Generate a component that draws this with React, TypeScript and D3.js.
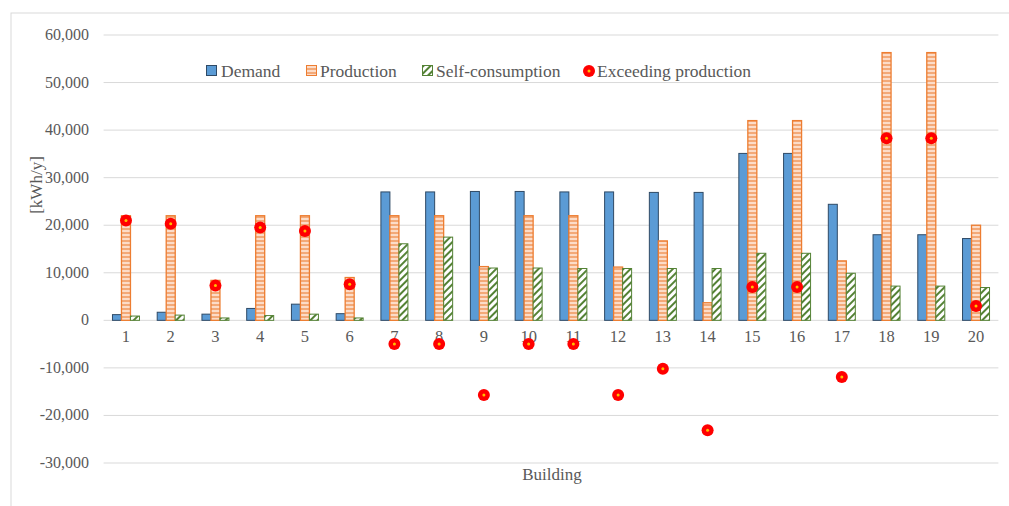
import React from "react";
import * as d3 from "d3";

const buildings = ["1","2","3","4","5","6","7","8","9","10","11","12","13","14","15","16","17","18","19","20"];
const demand = [1200,1700,1300,2500,3400,1400,27000,27000,27100,27100,27000,27000,26900,26900,35100,35100,24400,18000,18000,17200];
const production = [22000,22000,8400,22000,22000,9000,22000,22000,11300,22000,22000,11200,16700,3700,42000,42000,12500,56300,56300,20000];
const selfConsumption = [900,1100,500,1000,1300,500,16100,17500,11000,11000,10900,10900,10900,10900,14100,14100,9900,7200,7200,6900];
const exceeding = [21000,20300,7300,19500,18800,7600,-5000,-5000,-15700,-5000,-5000,-15700,-10200,-23100,7000,7000,-11900,38300,38300,3000];
const yTicks = [-30000,-20000,-10000,0,10000,20000,30000,40000,50000,60000];

const W = 1009, H = 506;
const FONT = "Liberation Serif, DejaVu Serif, serif";
const TXT = "#595959";

export default function App() {
  const x = d3.scaleBand<string>().domain(buildings).range([103.6, 998.4]).paddingInner(0).paddingOuter(0);
  const y = d3.scaleLinear().domain([-30000, 60000]).range([463, 35]);
  const bw = 9;
  const fmt = (v: number) => d3.format(",")(v).replace("\u2212", "-");
  const cx = (b: string) => (x(b) as number) + x.bandwidth() / 2;
  const y0 = y(0);

  const barRect = (b: string, v: number, off: number) => {
    const yy = y(v);
    return { x: cx(b) + off, y: Math.min(yy, y0), w: bw, h: Math.abs(y0 - yy) };
  };

  return (
    <svg width={W} height={H} style={{ position: "absolute", left: 0, top: 0, background: "#fff" }} fontFamily={FONT}>
      <defs>
        <pattern id="prodPat" patternUnits="userSpaceOnUse" width="4" height="4">
          <rect width="4" height="4" fill="#FCDCC8" />
          <rect y="0" width="4" height="2" fill="#F3A978" />
        </pattern>
        <pattern id="selfPat" patternUnits="userSpaceOnUse" width="5" height="5" patternTransform="rotate(45)">
          <rect width="5" height="5" fill="#fff" />
          <rect x="0" y="0" width="2" height="5" fill="#548235" />
        </pattern>
      </defs>
      <rect x={11} y={13} width={1010} height={500} fill="#fff" stroke="#D9D9D9" strokeWidth={1} />
      {yTicks.map((t) => (
        <line key={t} x1={103.6} x2={998.4} y1={y(t)} y2={y(t)} stroke="#D9D9D9" strokeWidth={1} />
      ))}
      {yTicks.map((t) => (
        <text key={"l" + t} x={89} y={y(t) + 5} textAnchor="end" fontSize={16} fill={TXT}>
          {fmt(t)}
        </text>
      ))}
      {buildings.map((b) => (
        <text key={"x" + b} x={cx(b)} y={y0 + 22} textAnchor="middle" fontSize={16.5} fill={TXT}>
          {b}
        </text>
      ))}
      {buildings.map((b, i) => {
        const d = barRect(b, demand[i], -13.5);
        const p = barRect(b, production[i], -4.5);
        const s = barRect(b, selfConsumption[i], 4.5);
        return (
          <g key={"b" + b}>
            <rect x={d.x} y={d.y} width={d.w} height={d.h} fill="#5B9BD5" stroke="#2F4A66" strokeWidth={1} />
            <rect x={p.x} y={p.y} width={p.w} height={p.h} fill="url(#prodPat)" stroke="#ED7D31" strokeWidth={1.3} />
            <rect x={s.x} y={s.y} width={s.w} height={s.h} fill="url(#selfPat)" stroke="#548235" strokeWidth={1} />
          </g>
        );
      })}
      {buildings.map((b, i) => (
        <g key={"e" + b}>
          <circle cx={cx(b)} cy={y(exceeding[i])} r={6} fill="#FF0000" />
          <circle cx={cx(b)} cy={y(exceeding[i])} r={1.5} fill="#FFC000" />
        </g>
      ))}
      <g fontSize={17.5} fill={TXT}>
        <rect x={206.5} y={65.5} width={10} height={10} fill="#5B9BD5" stroke="#2F4A66" />
        <text x={221} y={77}>Demand</text>
        <rect x={306.5} y={65.5} width={10} height={10} fill="url(#prodPat)" stroke="#ED7D31" />
        <text x={320} y={77}>Production</text>
        <rect x={422.5} y={65.5} width={10} height={10} fill="url(#selfPat)" stroke="#548235" />
        <text x={436} y={77}>Self-consumption</text>
        <circle cx={589} cy={71} r={6} fill="#FF0000" />
        <circle cx={589} cy={71} r={1.5} fill="#FFC000" />
        <text x={597} y={77}>Exceeding production</text>
      </g>
      <text x={0} y={0} transform={`translate(42,185) rotate(-90)`} textAnchor="middle" fontSize={17} fill={TXT}>
        [kWh/y]
      </text>
      <text x={552} y={480} textAnchor="middle" fontSize={17} fill={TXT}>
        Building
      </text>
    </svg>
  );
}
